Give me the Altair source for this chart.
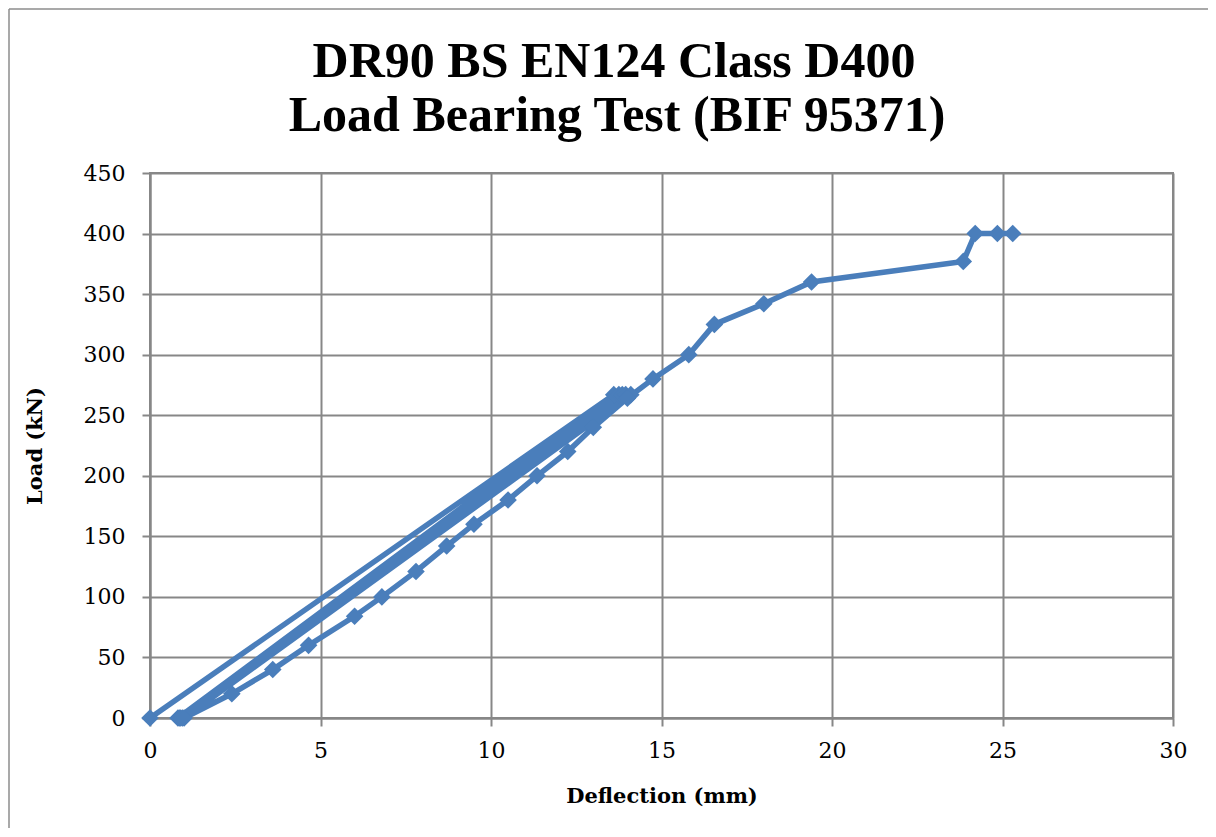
import altair as alt
import pandas as pd

deflection = [0, 13.6, 0.82, 13.75, 0.86, 13.85, 0.9, 13.95, 0.95, 14.1, 1.0,
              2.4, 3.6, 4.65, 6.0, 6.8, 7.8, 8.7, 9.5, 10.5, 11.35, 12.25, 13.0,
              14.0, 14.75, 15.8, 16.55, 18.0, 19.4, 23.85, 24.2, 24.85, 25.3]
load = [0, 267, 0, 267, 0, 267, 0, 267, 0, 267, 0,
        20, 40, 60, 84, 100, 121, 142, 160, 180, 200, 220, 240,
        264, 280, 300, 325, 342, 360, 377, 400, 400, 400]
title_lines = ["DR90 BS EN124 Class D400", "Load Bearing Test (BIF 95371)"]

df = pd.DataFrame({"step": list(range(len(load))), "Deflection": deflection, "Load": load})

BLUE = "#4A7EBB"
GRID = "#878787"
SERIF = "DejaVu Serif"
TITLE_FONT = "Liberation Serif"

xs = alt.X("Deflection:Q", scale=alt.Scale(domain=[0, 30], nice=False),
           axis=alt.Axis(title="Deflection (mm)", values=list(range(0, 31, 5)),
                         labelFlush=False))
ys = alt.Y("Load:Q", scale=alt.Scale(domain=[0, 450], nice=False),
           axis=alt.Axis(title="Load (kN)", values=list(range(0, 451, 50)),
                         labelFlush=False))

base = alt.Chart(df)
line = base.mark_line(color=BLUE, strokeWidth=5.5).encode(x=xs, y=ys, order="step:Q")
pts = base.mark_point(shape="diamond", filled=True, color=BLUE, size=310, opacity=1).encode(
    x="Deflection:Q", y="Load:Q")

one = pd.DataFrame({"a": [0]})
frame_top = alt.Chart(one).mark_rule(stroke="#8c8c8c", strokeWidth=1.5).encode(
    x=alt.value(-141), x2=alt.value(1060), y=alt.value(-164))
frame_left = alt.Chart(one).mark_rule(stroke="#8c8c8c", strokeWidth=1.5).encode(
    x=alt.value(-141), y=alt.value(-164), y2=alt.value(660))

t1 = alt.Chart(pd.DataFrame({"t": [title_lines[0]]})).mark_text(
    font=TITLE_FONT, fontSize=50, fontWeight="bold", color="black",
    align="center", baseline="alphabetic"
).encode(text="t:N", x=alt.value(464), y=alt.value(-96))
t2 = alt.Chart(pd.DataFrame({"t": [title_lines[1]]})).mark_text(
    font=TITLE_FONT, fontSize=50, fontWeight="bold", color="black",
    align="center", baseline="alphabetic"
).encode(text="t:N", x=alt.value(467), y=alt.value(-42))

chart = alt.layer(frame_top, frame_left, line, pts, t1, t2).properties(
    width=1023, height=545,
    padding={"left": 142, "top": 165, "right": 35, "bottom": 110},
    autosize=alt.AutoSizeParams(type="none"),
).configure_view(stroke=GRID, strokeWidth=2).configure_axis(
    gridColor=GRID, gridWidth=2, gridOpacity=1,
    domainColor=GRID, domainWidth=2,
    tickColor=GRID, tickWidth=2, tickSize=8,
    labelFont=SERIF, labelFontSize=22, labelColor="black",
    titleFont=SERIF, titleFontSize=21, titleFontWeight="bold", titleColor="black",
).configure_axisX(labelPadding=14, titlePadding=24).configure_axisY(
    labelPadding=17, titlePadding=38
)

chart.save("out.html", embed_options={"renderer": "svg", "actions": False})
